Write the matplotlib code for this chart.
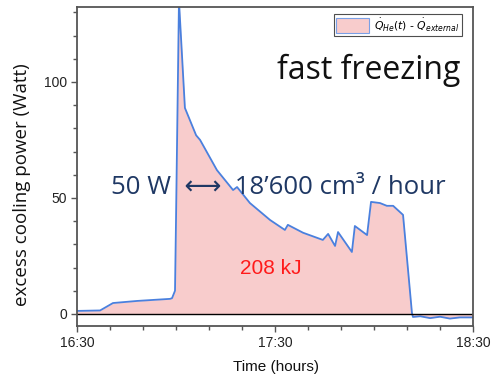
import matplotlib
matplotlib.use("Agg")
import matplotlib.pyplot as plt
from matplotlib.ticker import MultipleLocator, FixedLocator
from matplotlib.patches import Patch

# time in minutes after 16:30
t = [0, 7, 10.9, 18.2, 28.2, 28.8, 29.7, 30.0, 30.9, 32.7, 36.1, 37.3, 42.4,
     47.3, 48.5, 52.4, 58.5, 63.0, 63.9, 68.5, 74.5, 76.1, 78.2, 79.1, 83.3,
     84.2, 87.9, 89.1, 91.8, 93.9, 95.8, 98.8, 101.5, 101.8, 104, 107, 110,
     113, 116, 120]
power = [1.3, 1.5, 4.7, 5.6, 6.5, 6.8, 10, 40, 135, 88.8, 77, 75, 62,
         53.4, 54.7, 47.8, 40.5, 36.2, 38.4, 35, 31.9, 34.5, 29.3, 35.3, 26.7,
         37.9, 34, 48.3, 47.8, 46.6, 46.6, 42.7, 0.4, -1.3, -1.0, -1.8, -1.2,
         -2.0, -1.5, -1.5]

xtick_pos = [0, 60, 120]
xtick_labels = ["16:30", "17:30", "18:30"]
ytick_pos = [0, 50, 100]

fig = plt.figure(figsize=(4.92, 3.75), dpi=100)
ax = fig.add_axes([77/492, 1-326/375, (473-77)/492, (326-7)/375])

line_c = "#4a80de"
fill_c = "#f8cccc"
ax.fill_between(t, 0, power, color=fill_c, lw=0)
ax.plot(t, power, color=line_c, lw=1.3)
ax.axhline(0, color="black", lw=1.0)

ax.set_xlim(0, 120)
ax.set_ylim(-5.2, 132.3)
ax.xaxis.set_major_locator(FixedLocator(xtick_pos))
ax.set_xticklabels(xtick_labels)
ax.xaxis.set_minor_locator(MultipleLocator(10))
ax.yaxis.set_major_locator(FixedLocator(ytick_pos))
ax.yaxis.set_minor_locator(MultipleLocator(10))

for s in ax.spines.values():
    s.set_color("#555555")
    s.set_linewidth(1.3)

ax.tick_params(which="both", direction="out", colors="#555555",
               labelcolor="#222222", labelsize=10, width=1.0)
ax.tick_params(which="major", length=4, pad=3)
ax.tick_params(which="minor", length=3)
for lab in ax.get_xticklabels() + ax.get_yticklabels():
    lab.set_family("Liberation Sans")

fig.text(276/492, 1-367/375, "Time (hours)", ha="center", va="center",
         family="Liberation Sans", fontsize=11, color="#111111")
fig.text(22/492, 1-185/375, "excess cooling power (Watt)", rotation=90,
         ha="center", va="center", family="Open Sans", fontsize=13.5,
         color="#111111")

leg = ax.legend(handles=[Patch(facecolor=fill_c, edgecolor="#7aa0e6", lw=0.8)],
                labels=[r"$\dot{Q}_{He}(t)$ - $\dot{Q}_{external}$"],
                loc="upper right", bbox_to_anchor=(0.977, 0.985), fontsize=7.8,
                frameon=True, fancybox=False, handlelength=3.0, handleheight=1.8,
                borderpad=0.2, handletextpad=0.5, borderaxespad=0.2)
leg.get_frame().set_edgecolor("#222222")
leg.get_frame().set_linewidth(0.8)

fig.text(460/492, 1-70/375, "fast freezing", ha="right", va="center",
         family="Open Sans", fontsize=23, color="#111111")
fig.text(111/492, 1-188/375, "50 W  \u27f7  18\u2019600 cm\u00b3 / hour",
         ha="left", va="center", family=["Open Sans", "DejaVu Sans"],
         fontsize=18.5, color="#1f3864")
fig.text(240/492, 1-268/375, "208 kJ", ha="left", va="center",
         family="Liberation Sans", fontsize=15, color="#ff1a1a")

fig.savefig("out.png", dpi=100)
